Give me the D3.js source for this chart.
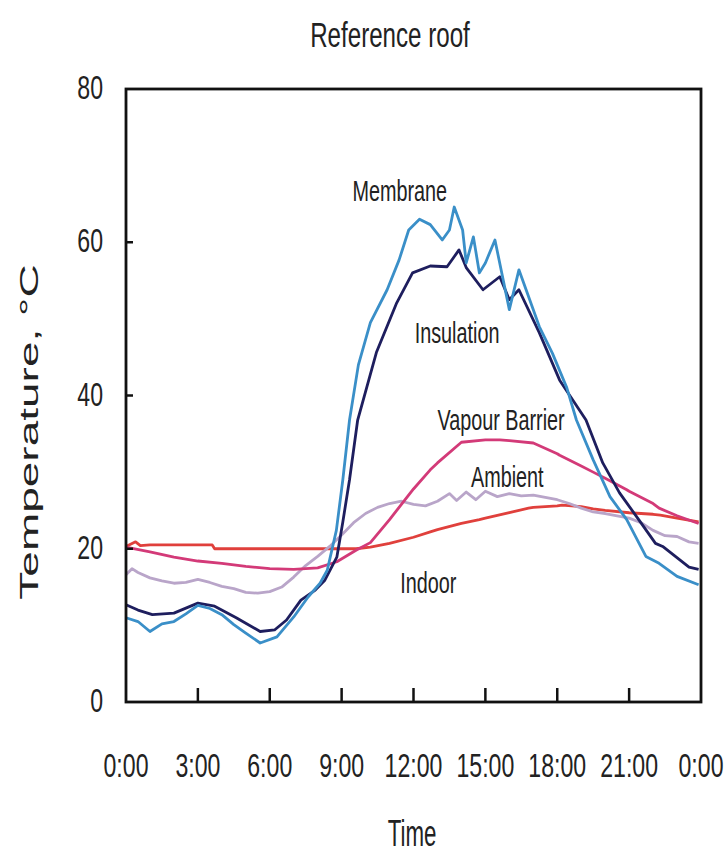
<!DOCTYPE html>
<html>
<head>
<meta charset="utf-8">
<script src="https://cdn.jsdelivr.net/npm/d3@7"></script>
<style>
  html, body { margin: 0; padding: 0; background: #fff; }
  svg { display: block; }
  text { font-family: "Liberation Sans", Arial, sans-serif; fill: #222; }
</style>
</head>
<body>
<svg id="chart" width="724" height="858"></svg>
<script>
// ---------------- data ----------------
const chartTitle = "Reference roof";
const xTitle = "Time";
const yTitle = "Temperature, °C";

const xTickHours = [0, 3, 6, 9, 12, 15, 18, 21, 24];
const xTickLabels = ["0:00", "3:00", "6:00", "9:00", "12:00", "15:00", "18:00", "21:00", "0:00"];
const yTickValues = [0, 20, 40, 60, 80];

const seriesNames = ["Membrane", "Insulation", "Vapour Barrier", "Ambient", "Indoor"];

const membraneHours = [0, 0.5, 1.0, 1.5, 2.0, 2.5, 3.0, 3.5, 4.0, 4.5, 5.0, 5.6, 6.3, 7.0, 7.6, 8.1, 8.4, 8.78, 9.05, 9.33, 9.7, 10.2, 10.9, 11.4, 11.8, 12.25, 12.7, 13.2, 13.5, 13.7, 14.05, 14.2, 14.5, 14.75, 15.0, 15.4, 16.0, 16.4, 17.0, 17.25, 17.8, 18.4, 18.8, 19.5, 20.2, 20.9, 21.7, 22.25, 23.0, 23.9];
const membraneTemps = [11.0, 10.5, 9.2, 10.2, 10.5, 11.5, 12.6, 12.2, 11.4, 10.1, 9.0, 7.7, 8.5, 11.1, 13.7, 15.5, 17.2, 22.4, 29.0, 36.8, 44.0, 49.5, 53.8, 57.7, 61.6, 63.0, 62.3, 60.3, 61.6, 64.6, 61.6, 57.3, 60.7, 56.0, 57.3, 60.3, 51.2, 56.4, 51.2, 49.0, 45.5, 41.0, 36.8, 31.6, 26.8, 23.8, 19.0, 18.1, 16.4, 15.3];

const insulationHours = [0, 0.5, 1.1, 2.0, 3.0, 3.7, 4.6, 5.6, 6.2, 6.7, 7.3, 7.9, 8.3, 8.8, 9.05, 9.33, 9.67, 10.45, 11.3, 11.96, 12.7, 13.4, 13.9, 14.2, 14.9, 15.6, 16.0, 16.4, 17.25, 18.1, 19.2, 19.9, 20.6, 21.4, 22.1, 22.4, 23.5, 23.9];
const insulationTemps = [12.7, 12.0, 11.4, 11.6, 12.9, 12.5, 11.0, 9.2, 9.4, 10.7, 13.3, 14.6, 15.9, 18.9, 23.5, 29.0, 36.8, 45.6, 52.1, 56.0, 56.9, 56.8, 59.0, 56.7, 53.8, 55.5, 52.5, 53.8, 48.2, 42.0, 36.8, 31.2, 27.3, 23.8, 20.7, 20.3, 17.6, 17.3];

const vapourHours = [0, 1, 2, 3, 4, 5, 6, 7, 8, 8.8, 9.6, 10.2, 11, 11.3, 12, 12.7, 13, 14, 15, 15.6, 16, 17, 18, 18.1, 19, 19.5, 20, 20.9, 21, 22, 22.25, 23, 23.9];
const vapourTemps = [20.2, 19.6, 18.9, 18.4, 18.1, 17.7, 17.4, 17.3, 17.5, 18.3, 19.8, 20.8, 23.8, 25.0, 27.8, 30.3, 31.2, 33.9, 34.2, 34.2, 34.1, 33.8, 32.4, 32.2, 30.8, 30.0, 29.2, 27.7, 27.5, 25.9, 25.3, 24.3, 23.3];

const ambientHours = [0, 0.25, 0.5, 1, 1.5, 2, 2.5, 3, 3.5, 4, 4.5, 5, 5.5, 6, 6.5, 7, 7.5, 8, 8.5, 9, 9.5, 10, 10.5, 11, 11.5, 12, 12.5, 13, 13.5, 13.8, 14.2, 14.6, 15, 15.5, 16, 16.5, 17, 17.5, 18, 18.5, 19, 19.5, 20, 20.5, 21, 21.5, 22, 22.5, 23, 23.5, 23.9];
const ambientTemps = [16.6, 17.4, 16.9, 16.2, 15.8, 15.5, 15.6, 16.0, 15.6, 15.1, 14.8, 14.3, 14.2, 14.4, 15.0, 16.3, 17.8, 19.0, 20.3, 21.8, 23.4, 24.6, 25.4, 25.9, 26.2, 25.8, 25.6, 26.2, 27.2, 26.3, 27.4, 26.4, 27.5, 26.8, 27.2, 26.9, 27.0, 26.7, 26.4, 25.9, 25.3, 24.8, 24.6, 24.3, 24.0, 23.4, 22.4, 21.7, 21.6, 20.9, 20.7];

const indoorHours = [0, 0.4, 0.6, 1, 2, 3, 3.6, 3.7, 5, 6, 7, 8, 9, 9.6, 10.2, 11, 12, 12.7, 13, 14, 14.75, 15, 16, 16.8, 17, 18, 18.2, 19, 19.5, 20, 21, 22, 22.3, 23, 23.9];
const indoorTemps = [20.3, 20.9, 20.4, 20.5, 20.5, 20.5, 20.5, 20.0, 20.0, 20.0, 20.0, 20.0, 20.0, 20.0, 20.2, 20.7, 21.5, 22.2, 22.5, 23.3, 23.8, 24.0, 24.7, 25.3, 25.4, 25.6, 25.7, 25.5, 25.2, 25.0, 24.7, 24.5, 24.4, 24.0, 23.5];

const seriesColors = ["#3a8fc8", "#1e1e5e", "#d33a78", "#b9a5c9", "#e0403c"];

// label anchors (hour, temperature) for the in-plot labels
const labelHours = [9.45, 12.05, 13.0, 14.4, 11.45];
const labelTemps = [65.4, 46.9, 35.5, 28.1, 14.2];

// ---------------- chart ----------------
const svg = d3.select("#chart");
const x = d3.scaleLinear().domain([0, 24]).range([126, 701]);
const y = d3.scaleLinear().domain([0, 80]).range([702, 89]);

const seriesData = [
  d3.zip(membraneHours, membraneTemps),
  d3.zip(insulationHours, insulationTemps),
  d3.zip(vapourHours, vapourTemps),
  d3.zip(ambientHours, ambientTemps),
  d3.zip(indoorHours, indoorTemps)
];

const line = d3.line().x(d => x(d[0])).y(d => y(d[1]));

// draw order: indoor, ambient, vapour, insulation, membrane
const order = [4, 3, 2, 1, 0];
svg.append("g").selectAll("path")
  .data(order)
  .join("path")
  .attr("d", i => line(seriesData[i]))
  .attr("fill", "none")
  .attr("stroke", i => seriesColors[i])
  .attr("stroke-width", 2.8)
  .attr("stroke-linejoin", "round");

// frame
svg.append("rect")
  .attr("x", x(0)).attr("y", y(80))
  .attr("width", x(24) - x(0)).attr("height", y(0) - y(80))
  .attr("fill", "none").attr("stroke", "#111").attr("stroke-width", 2.8);

// y ticks (inward)
svg.append("g").selectAll("line")
  .data(yTickValues.filter(v => v > 0 && v < 80))
  .join("line")
  .attr("x1", x(0)).attr("x2", x(0) + 7)
  .attr("y1", d => y(d)).attr("y2", d => y(d))
  .attr("stroke", "#111").attr("stroke-width", 2.5);

// x ticks (inward)
svg.append("g").selectAll("line")
  .data(xTickHours.filter(h => h > 0 && h < 24))
  .join("line")
  .attr("x1", d => x(d)).attr("x2", d => x(d))
  .attr("y1", y(0)).attr("y2", y(0) - 14)
  .attr("stroke", "#111").attr("stroke-width", 2.5);

// y tick labels
svg.append("g").selectAll("text")
  .data(yTickValues)
  .join("text")
  .attr("transform", d => `translate(103,${y(d) + 10}) scale(0.68,1)`)
  .attr("text-anchor", "end")
  .attr("font-size", 34)
  .text(d => d);

// x tick labels
svg.append("g").selectAll("text")
  .data(xTickHours)
  .join("text")
  .attr("transform", d => `translate(${x(d)},777) scale(0.68,1)`)
  .attr("text-anchor", "middle")
  .attr("font-size", 34)
  .text((d, i) => xTickLabels[i]);

// title
svg.append("text")
  .attr("transform", "translate(390,47) scale(0.69,1)")
  .attr("text-anchor", "middle")
  .attr("font-size", 35)
  .text(chartTitle);

// x title
svg.append("text")
  .attr("transform", "translate(412,846) scale(0.62,1)")
  .attr("text-anchor", "middle")
  .attr("font-size", 36)
  .text(xTitle);

// y title
svg.append("text")
  .attr("transform", "translate(38,432) rotate(-90) scale(1.84,1)")
  .attr("text-anchor", "middle")
  .attr("font-size", 25)
  .text(yTitle);

// series labels
svg.append("g").selectAll("text")
  .data(seriesNames)
  .join("text")
  .attr("transform", (d, i) => `translate(${x(labelHours[i])},${y(labelTemps[i])}) scale(0.66,1)`)
  .attr("font-size", 30)
  .text(d => d);
</script>
</body>
</html>
